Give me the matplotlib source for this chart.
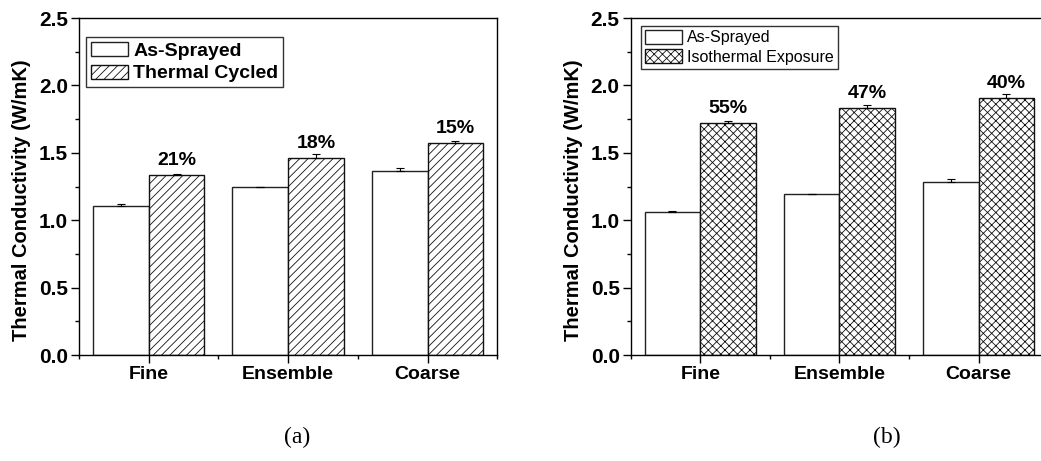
import matplotlib.pyplot as plt
import numpy as np
from matplotlib.ticker import MultipleLocator

plt.rcParams['font.family'] = ['Liberation Sans', 'DejaVu Sans']
plt.rcParams['hatch.linewidth'] = 0.6

categories = ['Fine', 'Ensemble', 'Coarse']

# (a) as-sprayed vs thermal cycled
sprayed_a = [1.108, 1.244, 1.365]
sprayed_a_err = [0.014, 0.005, 0.025]
cycled_a = [1.336, 1.464, 1.572]
cycled_a_err = [0.008, 0.025, 0.012]
labels_a = ['21%', '18%', '15%']

# (b) as-sprayed vs isothermal exposure
sprayed_b = [1.059, 1.192, 1.281]
sprayed_b_err = [0.012, 0.005, 0.025]
iso_b = [1.723, 1.832, 1.909]
iso_b_err = [0.015, 0.020, 0.030]
labels_b = ['55%', '47%', '40%']

fig = plt.figure(figsize=(10.41, 4.61), dpi=100)
ax1 = fig.add_axes([0.0759, 0.2299, 0.4018, 0.731])
ax2 = fig.add_axes([0.6059, 0.2299, 0.4009, 0.731])

x = np.arange(1, 4)
w = 0.4


def panel(ax, a, a_err, b, b_err, hatch, names, pct, legend_bold, legend_box):
    ekw = dict(ecolor='black', elinewidth=0.8, capsize=3, capthick=0.8)
    # error bars point upward only
    ax.bar(x - w / 2, a, w, yerr=[np.zeros(3), a_err], color='white',
           edgecolor='#222222', linewidth=1.0, label=names[0], error_kw=ekw)
    ax.bar(x + w / 2, b, w, yerr=[np.zeros(3), b_err], color='white',
           edgecolor='#111111', linewidth=1.0, hatch=hatch, label=names[1],
           error_kw=ekw)
    for xi, v, t in zip(x, b, pct):
        ax.text(xi + w / 2, v + 0.075, t, ha='center', va='baseline',
                fontsize=14, fontweight='bold')
    ax.set_xlim(0.5, 3.5)
    ax.set_ylim(0, 2.5)
    ax.set_xticks(x)
    ax.set_xticklabels(categories, fontsize=14, fontweight='bold')
    ax.xaxis.set_minor_locator(MultipleLocator(0.5))
    ax.yaxis.set_major_locator(MultipleLocator(0.5))
    ax.yaxis.set_minor_locator(MultipleLocator(0.25))
    ax.tick_params(which='major', direction='out', length=6, width=1,
                   labelsize=14, pad=2)
    ax.tick_params(axis='y', which='major', labelsize=15)
    ax.tick_params(which='minor', direction='out', length=3, width=1)
    for lab in ax.get_yticklabels():
        lab.set_fontweight('bold')
    ax.set_ylabel('Thermal Conductivity (W/mK)', fontsize=14.5,
                  fontweight='bold')
    ax.yaxis.set_label_coords(-0.115, 0.46)
    for s in ax.spines.values():
        s.set_linewidth(1.0)
    leg = ax.legend(loc='upper left', bbox_to_anchor=legend_box,
                    frameon=True, fancybox=False, edgecolor='black',
                    handlelength=1.9 if legend_bold else 2.35,
                    handleheight=0.75 if legend_bold else 0.95,
                    handletextpad=0.3,
                    borderpad=0.25, labelspacing=0.25, borderaxespad=0,
                    prop={'size': 14 if legend_bold else 11.5,
                          'weight': 'bold' if legend_bold else 'normal'})
    leg.get_frame().set_linewidth(1.0)


panel(ax1, sprayed_a, sprayed_a_err, cycled_a, cycled_a_err, '////',
      ['As-Sprayed', 'Thermal Cycled'], labels_a, True, (0.016, 0.944))
panel(ax2, sprayed_b, sprayed_b_err, iso_b, iso_b_err, 'xxxx',
      ['As-Sprayed', 'Isothermal Exposure'], labels_b, False, (0.024, 0.977))

fig.text(297 / 1041, 1 - 437 / 461, '(a)', family='Liberation Serif',
         fontsize=17, ha='center', va='center')
fig.text(887 / 1041, 1 - 437 / 461, '(b)', family='Liberation Serif',
         fontsize=17, ha='center', va='center')

fig.savefig('out.png', dpi=100)
